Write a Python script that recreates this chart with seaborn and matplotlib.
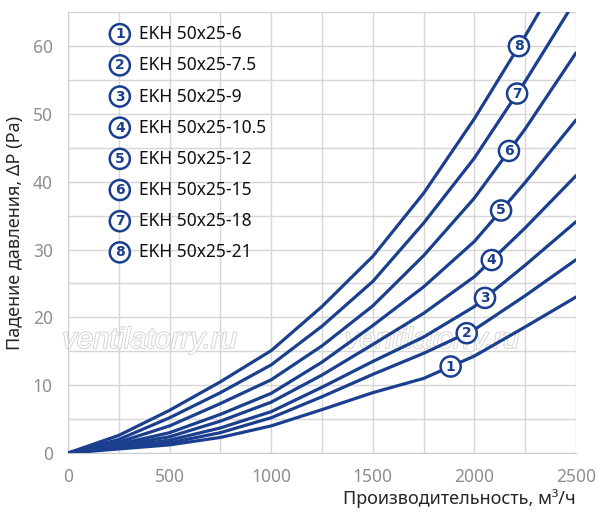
import numpy as np
import pandas as pd
import seaborn as sns
import matplotlib
matplotlib.use("Agg")
from matplotlib import pyplot as plt
from matplotlib import patheffects as pe

# flow, m3/h
flow = [0, 250, 500, 750, 1000, 1250, 1500, 1750, 2000, 2250, 2500]

# pressure drop, Pa
dp_6 = [0, 0.6, 1.2, 2.3, 4.0, 6.4, 8.9, 11.0, 14.3, 18.6, 23.0]
dp_75 = [0, 0.75, 1.5, 3.0, 5.2, 8.3, 11.6, 14.7, 18.2, 23.2, 28.5]
dp_9 = [0, 0.9, 1.9, 3.7, 6.1, 9.7, 13.5, 17.1, 21.6, 27.7, 34.1]
dp_105 = [0, 1.1, 2.4, 4.7, 7.5, 11.5, 16.0, 20.6, 26.0, 33.2, 40.9]
dp_12 = [0, 1.3, 3.0, 5.7, 8.8, 13.4, 18.8, 24.5, 31.2, 39.9, 49.1]
dp_15 = [0, 1.6, 4.0, 7.3, 10.8, 15.8, 21.7, 29.1, 37.6, 47.8, 59.0]
# the two upper curves leave the plot through the top edge
flow_18 = [0, 250, 500, 750, 1000, 1250, 1500, 1750, 2000, 2250, 2461]
dp_18 = [0, 2.0, 5.2, 8.9, 13.0, 18.7, 25.3, 33.9, 43.5, 54.8, 65.0]
flow_21 = [0, 250, 500, 750, 1000, 1250, 1500, 1750, 2000, 2250, 2318]
dp_21 = [0, 2.6, 6.3, 10.5, 15.1, 21.6, 29.0, 38.3, 49.3, 61.5, 65.0]

models = ["EKH 50x25-6", "EKH 50x25-7.5", "EKH 50x25-9", "EKH 50x25-10.5",
          "EKH 50x25-12", "EKH 50x25-15", "EKH 50x25-18", "EKH 50x25-21"]
# flow at which the numbered marker sits on each curve
label_flow = [1883, 1962, 2052, 2085, 2131, 2170, 2210, 2219]

x_ticks = [0, 500, 1000, 1500, 2000, 2500]
y_ticks = [0, 10, 20, 30, 40, 50, 60]

blue = "#1b3f8f"
gray = "#8f8f8f"

curves = [(flow, dp_6), (flow, dp_75), (flow, dp_9), (flow, dp_105),
          (flow, dp_12), (flow, dp_15), (flow_18, dp_18), (flow_21, dp_21)]
rows = []
for name, (fx, fy) in zip(models, curves):
    for a, b in zip(fx, fy):
        rows.append([name, a, b])
df = pd.DataFrame(rows, columns=["model", "flow", "dp"])

sns.set_style("white")
plt.rcParams["font.family"] = ["Noto Sans", "DejaVu Sans"]

fig = plt.figure(figsize=(5.97, 5.23), dpi=100)
ax = fig.add_axes([0.1139, 0.1338, 0.851, 0.843])

# watermark, under the curves
for fx in (0.251, 0.724):
    ax.text(fx, 0.350, "ventilatorry.ru", transform=fig.transFigure, clip_on=False,
            fontsize=21, style="italic", family="Liberation Sans", color="white",
            ha="center", va="center",
            path_effects=[pe.Stroke(linewidth=1.2, foreground="#cfcfcf"), pe.Normal()],
            zorder=1)

sns.lineplot(data=df, x="flow", y="dp", hue="model", palette=[blue] * 8,
             linewidth=2.3, legend=False, ax=ax, sort=False, zorder=3)

ax.set_xlim(0, 2500)
ax.set_ylim(0, 65)
ax.set_xticks(x_ticks)
ax.set_yticks(y_ticks)
ax.set_xticks(np.arange(0, 2501, 250), minor=True)
ax.set_yticks(np.arange(0, 66, 5), minor=True)
ax.grid(which="both", color="#d6d6d6", linewidth=1.0, zorder=0)
ax.set_axisbelow(True)
ax.tick_params(axis="both", which="major", length=5, width=1, color="#cccccc",
               labelcolor=gray, labelsize=12.5, pad=6)
ax.tick_params(axis="both", which="minor", length=0)
for s in ["top", "right"]:
    ax.spines[s].set_visible(False)
for s in ["left", "bottom"]:
    ax.spines[s].set_color("#cccccc")

ax.set_xlabel("Производительность, м³/ч", fontsize=13, loc="right", labelpad=2)
ax.set_ylabel("Падение давления, ΔP (Pa)", fontsize=13, labelpad=6)

circle = dict(boxstyle="circle,pad=0.22", fc="white", ec=blue, lw=1.8)

# numbered markers on the curves
for i, ((fx, fy), lx) in enumerate(zip(curves, label_flow)):
    ly = np.interp(lx, fx, fy)
    ax.text(lx, ly, str(i + 1), color=blue, fontsize=10, fontweight="bold",
            family="DejaVu Sans", ha="center", va="center", bbox=circle, zorder=5)

# legend list
for i, name in enumerate(models):
    yy = 0.950 - i * 0.0707
    ax.text(0.102, yy, str(i + 1), transform=ax.transAxes, color=blue,
            fontsize=10, fontweight="bold", family="DejaVu Sans",
            ha="center", va="center", bbox=circle, zorder=5)
    ax.text(0.140, yy, name, transform=ax.transAxes, color="#111111",
            fontsize=12.5, ha="left", va="center", zorder=5)

fig.savefig("out.png", dpi=100)
